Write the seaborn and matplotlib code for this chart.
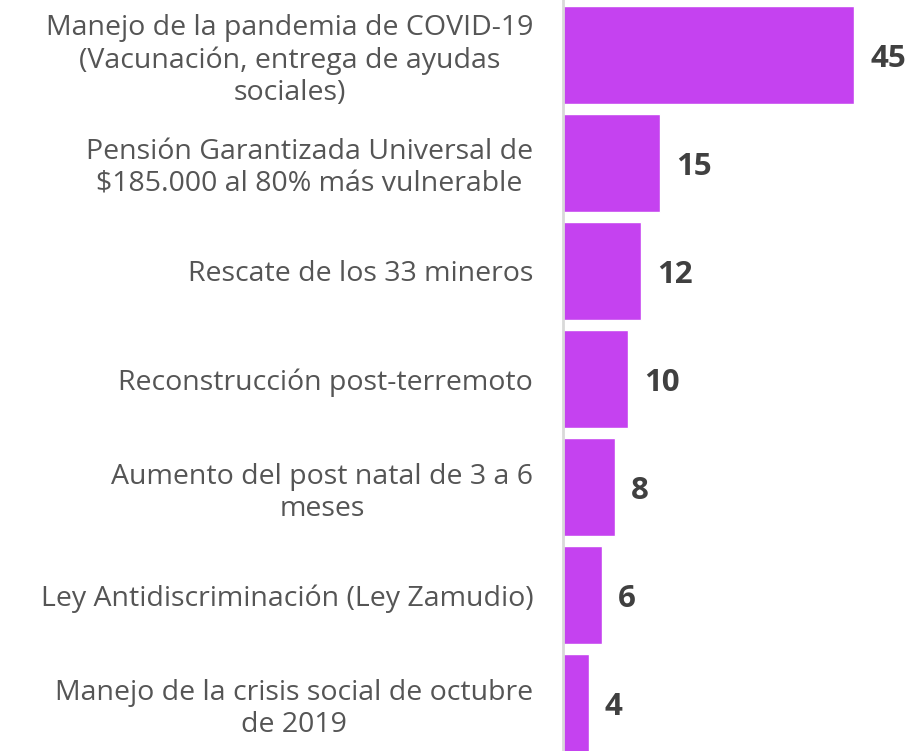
import matplotlib
matplotlib.use('Agg')
import matplotlib.pyplot as plt
import seaborn as sns
import pandas as pd

# Datos
categorias = [
    'Manejo de la pandemia de COVID-19\n(Vacunación, entrega de ayudas\nsociales)',
    'Pensión Garantizada Universal de\n$185.000 al 80% más vulnerable',
    'Rescate de los 33 mineros',
    'Reconstrucción post-terremoto',
    'Aumento del post natal de 3 a 6\nmeses',
    'Ley Antidiscriminación (Ley Zamudio)',
    'Manejo de la crisis social de octubre\nde 2019',
]
valores = [45, 15, 12, 10, 8, 6, 4]

sns.set_theme(style="white")
plt.rcParams['font.family'] = ['Open Sans', 'DejaVu Sans']

df = pd.DataFrame({'Categoria': categorias, 'Valor': valores})

fig = plt.figure(figsize=(9.1, 7.51), dpi=100)
ax = fig.add_axes([563 / 910, 0, 347 / 910, 1])

sns.barplot(data=df, x='Valor', y='Categoria', color='#C542F0', width=0.907,
            saturation=1, ax=ax)

ax.set_xlim(0, 53.6)
ax.set_ylim(6.444, -0.509)
ax.set_xlabel('')
ax.set_ylabel('')
ax.set_xticks([])

for s in ['top', 'right', 'bottom']:
    ax.spines[s].set_visible(False)
ax.spines['left'].set_color('#D9D9D9')
ax.spines['left'].set_linewidth(2)

ax.tick_params(axis='y', length=0, pad=21.5, labelsize=20.5, labelcolor='#555555')
for t in ax.get_yticklabels():
    t.set_multialignment('center')
    t.set_linespacing(1.2)

# Etiquetas de valores
for i, v in enumerate(valores):
    ax.annotate(str(v), xy=(v, i), xytext=(16, -4), textcoords='offset pixels',
                ha='left', va='center', fontsize=22.5, fontweight='bold',
                color='#404040')

fig.savefig('out.png', dpi=100)
